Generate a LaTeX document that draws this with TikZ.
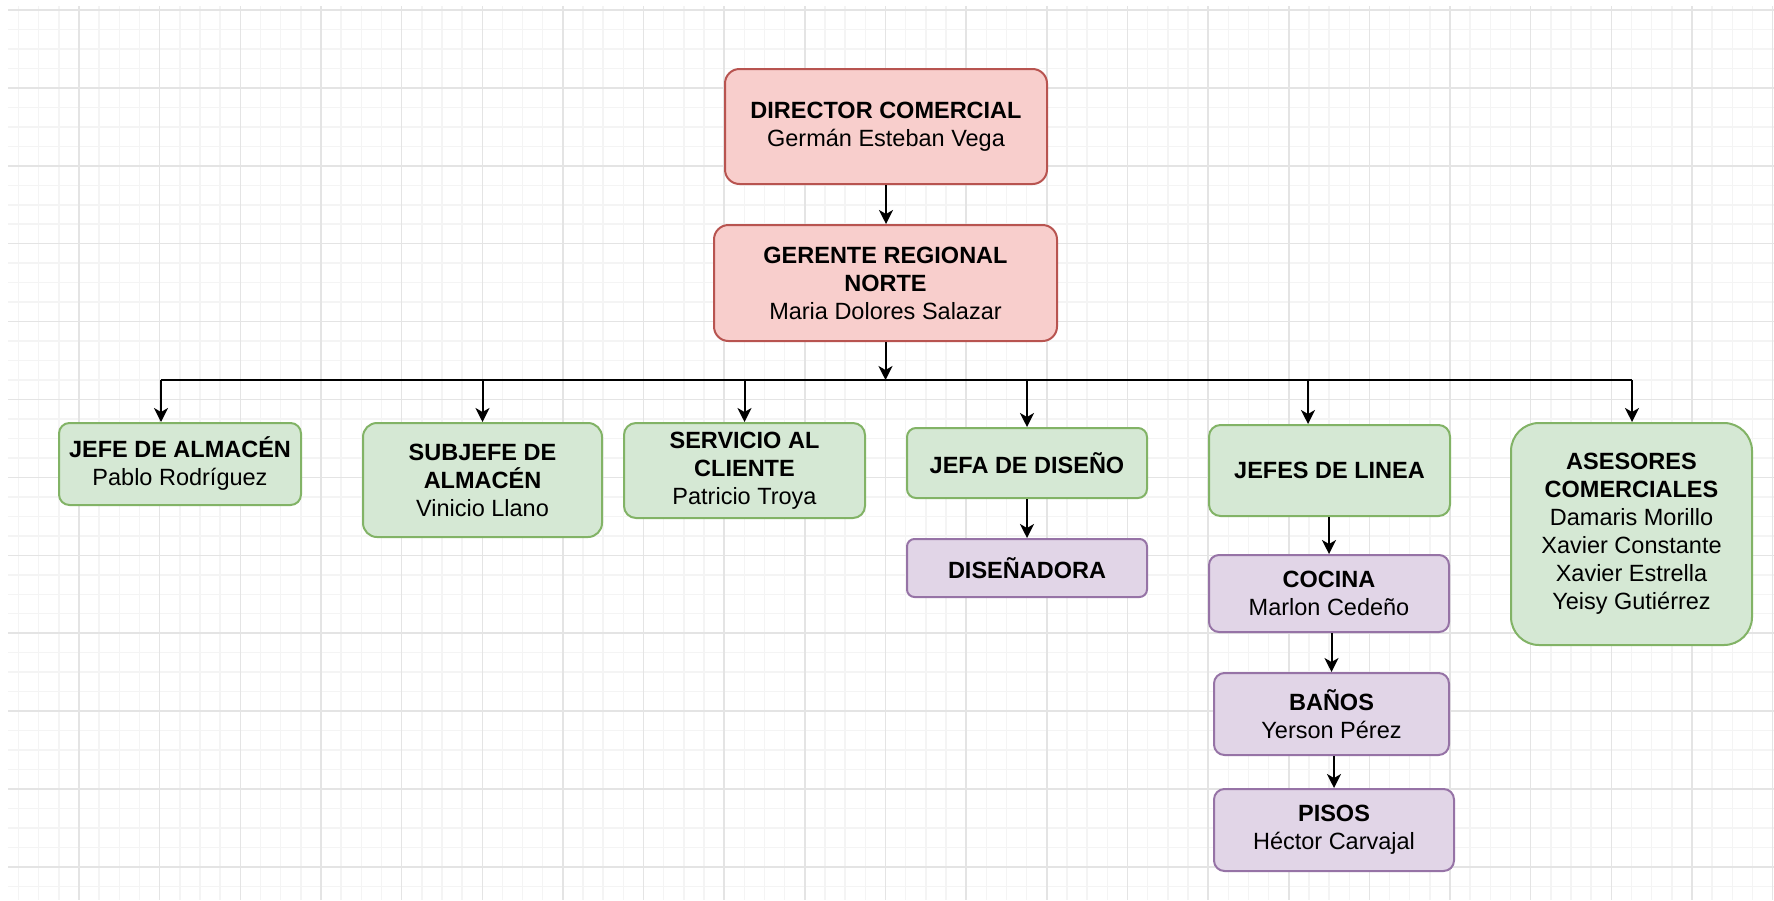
\documentclass[tikz,border=0pt]{standalone}
\usepackage{fontspec}
\setmainfont{Liberation Sans}
\usetikzlibrary{arrows.meta}

\definecolor{redfill}{HTML}{F8CECC}
\definecolor{redline}{HTML}{B85450}
\definecolor{greenfill}{HTML}{D5E8D4}
\definecolor{greenline}{HTML}{82B366}
\definecolor{purplefill}{HTML}{E1D5E7}
\definecolor{purpleline}{HTML}{9673A6}
\definecolor{gridmajor}{HTML}{E4E4E4}
\definecolor{gridminor}{HTML}{F4F4F4}

\begin{document}
\begin{tikzpicture}[x=1pt,y=-1pt,
  box/.style={line width=2pt, align=center, inner sep=0pt, text=black,
    font=\fontsize{23.5pt}{28pt}\selectfont},
  redbox/.style={box, fill=redfill, draw=redline},
  greenbox/.style={box, fill=greenfill, draw=greenline},
  purplebox/.style={box, fill=purplefill, draw=purpleline},
  conn/.style={draw=black, line width=2pt, -{Stealth[length=14pt,width=14pt,inset=4pt]}},
  busline/.style={draw=black, line width=2pt},
  minorgrid/.style={draw=gridminor, line width=1.5pt},
  majorgrid/.style={draw=gridmajor, line width=1.5pt}
]
\useasboundingbox (0,0) rectangle (1774,900);
\fill[white] (0,0) rectangle (1774,900);

% background grid
\begin{scope}
  \clip (8,6) rectangle (1774,900);
  \foreach \k in {-3,...,84}{
    \pgfmathsetmacro\xx{79+20.1625*\k}
    \draw[minorgrid] (\xx,6) -- (\xx,900);
  }
  \foreach \k in {0,...,45}{
    \pgfmathsetmacro\yy{10+19.475*\k}
    \draw[minorgrid] (8,\yy) -- (1774,\yy);
  }
  \foreach \k in {0,...,21}{
    \pgfmathsetmacro\xx{79+80.65*\k}
    \draw[majorgrid] (\xx,6) -- (\xx,900);
  }
  \foreach \k in {0,...,11}{
    \pgfmathsetmacro\yy{10+77.9*\k}
    \draw[majorgrid] (8,\yy) -- (1774,\yy);
  }
\end{scope}

% top management
\node[redbox, minimum width=322pt, minimum height=115pt, rounded corners=14.5pt] (dir) at (886,126.5)
  {\textbf{DIRECTOR COMERCIAL}\\Germán Esteban Vega};
\node[redbox, minimum width=343pt, minimum height=116pt, rounded corners=14.5pt] (ger) at (885.5,283)
  {\textbf{GERENTE REGIONAL}\\\textbf{NORTE}\\Maria Dolores Salazar};

% second level
\node[greenbox, minimum width=242pt, minimum height=82pt, rounded corners=10.5pt] (jefe) at (180,464)
  {\textbf{JEFE DE ALMACÉN}\\Pablo Rodríguez};
\node[greenbox, minimum width=239pt, minimum height=114pt, rounded corners=14pt] (subj) at (482.5,480)
  {\textbf{SUBJEFE DE}\\\textbf{ALMACÉN}\\Vinicio Llano};
\node[greenbox, minimum width=241pt, minimum height=95pt, rounded corners=12pt] (serv) at (744.5,470.5)
  {\textbf{SERVICIO AL}\\\textbf{CLIENTE}\\Patricio Troya};
\node[greenbox, minimum width=240pt, minimum height=70pt, rounded corners=9pt] (jefa) at (1027,463)
  {\textbf{JEFA DE DISEÑO}};
\node[greenbox, minimum width=241pt, minimum height=91pt, rounded corners=11.5pt] (jefes) at (1329.5,470.5)
  {\textbf{JEFES DE LINEA}};
\node[greenbox, minimum width=241pt, minimum height=222pt, rounded corners=28pt] (ases) at (1631.5,534)
  {\textbf{ASESORES}\\\textbf{COMERCIALES}\\Damaris Morillo\\Xavier Constante\\Xavier Estrella\\Yeisy Gutiérrez};

% third level
\node[purplebox, minimum width=240pt, minimum height=58pt, rounded corners=7.5pt] (dise) at (1027,568)
  {\textbf{DISEÑADORA}};
\node[purplebox, minimum width=240pt, minimum height=77pt, rounded corners=10pt] (coc) at (1329,593.5)
  {\textbf{COCINA}\\Marlon Cedeño};
\node[purplebox, minimum width=235pt, minimum height=82pt, rounded corners=10.5pt] (ban) at (1331.5,714)
  {\textbf{BAÑOS}\\Yerson Pérez};
\node[purplebox, minimum width=240pt, minimum height=82pt, rounded corners=10.5pt] (pis) at (1334,830)
  {\textbf{PISOS}\\Héctor Carvajal};

% distribution bus
\coordinate (busL) at (161,380);
\coordinate (busR) at (1632,380);
\coordinate (busJL) at (1308,380);

% connectors
\draw[conn] (dir.south) -- (dir.south |- ger.north);
\draw[conn] (ger.south) -- (ger.south |- busL);
\draw[busline] (busL) -- (busR);
\draw[conn] (busL) -- (busL |- jefe.north);
\draw[conn] (subj.north |- busL) -- (subj.north);
\draw[conn] (serv.north |- busL) -- (serv.north);
\draw[conn] (jefa.north |- busL) -- (jefa.north);
\draw[conn] (busJL) -- (busJL |- jefes.north);
\draw[conn] (busR) -- (busR |- ases.north);
\draw[conn] (jefa.south) -- (dise.north);
\draw[conn] (jefes.south -| coc.north) -- (coc.north);
\draw[conn] (coc.south -| ban.north) -- (ban.north);
\draw[conn] (ban.south -| pis.north) -- (pis.north);
\end{tikzpicture}
\end{document}
